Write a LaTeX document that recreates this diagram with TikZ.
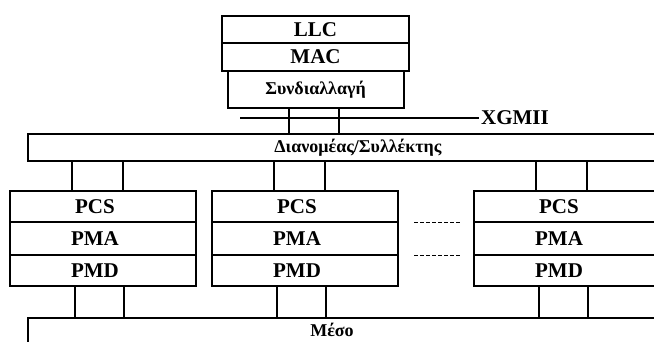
\documentclass[tikz,border=0pt]{standalone}
\usepackage{fontspec}
\setmainfont{Liberation Serif}
\usetikzlibrary{positioning,calc}
\tikzset{
    layer/.style={
        draw,
        rectangle,
        line width=2pt,
        inner sep=0pt,
        outer sep=0pt,
        font=\bfseries\fontsize{21}{21}\selectfont
    },
    toplayer/.style={layer, minimum width=187pt},
    phyrow/.style={
        layer,
        minimum width=186pt,
        execute at begin node={\hspace*{-16pt}}
    },
    greek/.style={font=\bfseries\fontsize{18}{18}\selectfont},
    link/.style={line width=2pt},
    gap/.style={dash pattern=on 4pt off 2pt, line width=0.8pt}
}

\begin{document}
\begin{tikzpicture}[x=1pt, y=-1pt]
                \useasboundingbox (0,0) rectangle (654,341);
                \clip (0,0) rectangle (654,341);
                % MAC side
                \node[toplayer, minimum height=27pt] (llc) at (315.5,29.5) {LLC};
                \node[toplayer, minimum height=28pt, below=0pt of llc] (mac) {MAC};
                \node[layer, greek, minimum width=176pt, minimum height=37pt, below=0pt of mac] (rs) {Συνδιαλλαγή};
                \node[layer, greek, minimum width=660pt, minimum height=27pt] (dist) at (358,147.5) {Διανομέας/Συλλέκτης};
                \coordinate (xgl) at (240,118);
                \node[font=\bfseries\fontsize{21}{21}\selectfont, inner sep=2pt] (xgmii) at (515,118) {XGMII};
                \draw[link] (xgl) -- (xgmii.west);
                \foreach \dx in {-27,23}
                    \draw[link] ([xshift=\dx pt]rs.south) -- ([xshift=\dx pt]rs.south |- dist.north);
                % PHY stacks
                \node[layer, minimum width=700pt, minimum height=60pt, anchor=north west] (medium) at (28,318) {};
                \node[greek, inner sep=1pt] (mediumlbl) at (332,329.5) {Μέσο};
                \foreach \i/\cx in {1/103, 2/305, 3/567} {
                    \node[phyrow, minimum height=31pt] (pcs\i) at (\cx,206.5) {PCS};
                    \node[phyrow, minimum height=33pt, below=0pt of pcs\i] (pma\i) {PMA};
                    \node[phyrow, minimum height=31pt, below=0pt of pma\i] (pmd\i) {PMD};
                    \foreach \dx in {-31,20}
                        \draw[link] ([xshift=\dx pt]pcs\i.north) -- ([xshift=\dx pt]pcs\i.north |- dist.south);
                    \foreach \dx in {-28,21}
                        \draw[link] ([xshift=\dx pt]pmd\i.south) -- ([xshift=\dx pt]pmd\i.south |- medium.north);
                }
                \draw[gap] ([xshift=16pt]pma2.north east) -- ([xshift=-14pt]pma3.north west);
                \draw[gap] ([xshift=16pt]pma2.south east) -- ([xshift=-14pt]pma3.south west);
            \end{tikzpicture}
\end{document}
